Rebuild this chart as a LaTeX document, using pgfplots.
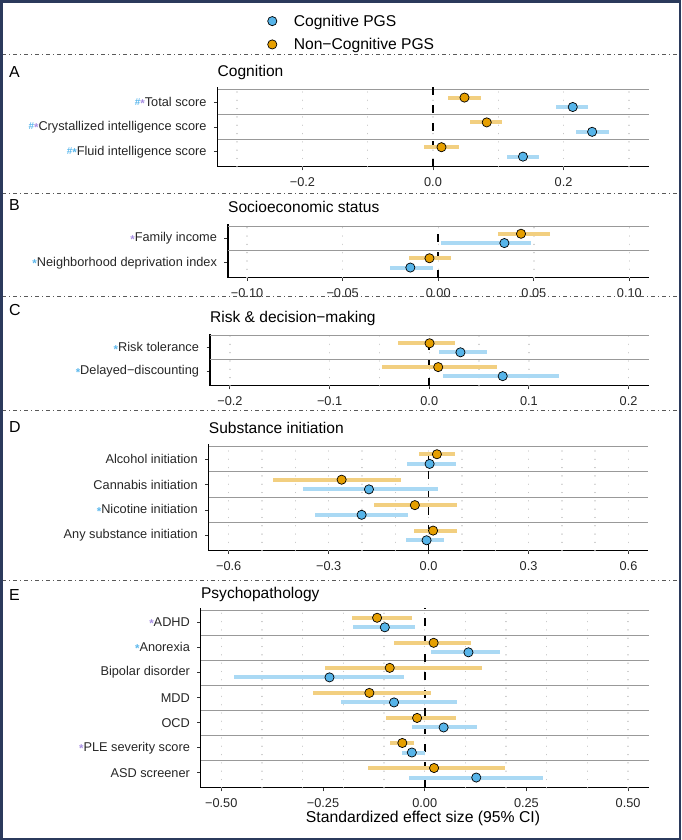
\documentclass[border=0pt]{standalone}
\usepackage{pgfplots}
\pgfplotsset{compat=1.18}
\usepackage{pgfplotstable}
\usepackage{fontspec}
\setmainfont{Liberation Sans}
\definecolor{cO}{HTML}{E69F00}
\definecolor{cB}{HTML}{56B4E9}
\definecolor{cOl}{HTML}{F2CF80}
\definecolor{cBl}{HTML}{AAD9F4}
\definecolor{sB}{HTML}{5DB8EC}
\definecolor{sP}{HTML}{A890E2}
\definecolor{frm}{HTML}{2B3A5C}
\newcommand{\hs}{\textcolor{sB}{\raisebox{0.6bp}{\fontsize{10}{10}\selectfont\bfseries\#}}}
\newcommand{\stb}{\textcolor{sB}{\raisebox{-1.4bp}{\fontsize{11.5}{10}\selectfont\bfseries*}}}
\newcommand{\stp}{\textcolor{sP}{\raisebox{-1.4bp}{\fontsize{11.5}{10}\selectfont\bfseries*}}}

\pgfplotstableread{
y x lo hi
3.19 0.0482 0.0227 0.0729
2.19 0.0823 0.056 0.106
1.19 0.013 -0.0134 0.0395
}\Aor
\pgfplotstableread{
y x lo hi
2.81 0.214 0.189 0.237
1.81 0.2437 0.219 0.2696
0.81 0.1378 0.113 0.1617
}\Abl
\pgfplotstableread{
y x lo hi
2.19 0.0433 0.0312 0.0585
1.19 -0.0046 -0.0153 0.0068
}\Bor
\pgfplotstableread{
y x lo hi
1.81 0.0346 0.0016 0.0483
0.81 -0.0146 -0.0255 -0.003
}\Bbl
\pgfplotstableread{
y x lo hi
2.19 0.0003 -0.0313 0.0257
1.19 0.009 -0.0478 0.0677
}\Cor
\pgfplotstableread{
y x lo hi
1.81 0.0313 0.0093 0.0584
0.81 0.0737 0.014 0.130
}\Cbl
\pgfplotstableread{
y x lo hi
4.19 0.025 -0.0295 0.0797
3.19 -0.261 -0.4676 -0.0816
2.19 -0.0412 -0.1647 0.085
1.19 0.0134 -0.0438 0.085
}\Dor
\pgfplotstableread{
y x lo hi
3.81 0.003 -0.0646 0.0823
2.81 -0.179 -0.378 0.029
1.81 -0.201 -0.340 -0.0607
0.81 -0.0061 -0.0685 0.046
}\Dbl
\pgfplotstableread{
y x lo hi
7.19 -0.117 -0.178 -0.0316
6.19 0.022 -0.0765 0.115
5.19 -0.086 -0.2455 0.1396
4.19 -0.136 -0.2743 0.0166
3.19 -0.0187 -0.0947 0.0775
2.19 -0.055 -0.085 -0.026
1.19 0.023 -0.1385 0.1963
}\Eor
\pgfplotstableread{
y x lo hi
6.81 -0.098 -0.175 -0.023
5.81 0.1075 0.0144 0.1856
4.81 -0.234 -0.469 -0.0497
3.81 -0.0754 -0.2048 0.0797
2.81 0.0465 -0.0316 0.1289
1.81 -0.0316 -0.055 0.0005
0.81 0.1267 -0.039 0.2896
}\Ebl

\newcommand{\ciplot}[3]{%
\addplot[only marks, mark=*, mark size=4.6bp, mark options={fill=#2, draw=black, line width=0.7bp},
  error bars/.cd, x dir=both, x explicit, error mark=none,
  error bar style={line width=4bp, color=#3}]
  table[x=x, y=y, x error minus expr={\thisrow{x}-\thisrow{lo}}, x error plus expr={\thisrow{hi}-\thisrow{x}}] {#1};}

\newcommand{\zeroline}[1]{\draw[line width=1.8bp, dash pattern=on 8bp off 10bp] (axis cs:0,0.4) -- (axis cs:0,#1);}

\pgfplotsset{
  panel/.style={
    scale only axis, clip=false,
    axis lines=left,
    axis line style={-, line width=1.1bp, black},
    x axis line style={-}, y axis line style={-},
    tick align=outside,
    major tick length=3.5bp,
    every tick/.append style={line width=0.9bp, black!80},
    tick label style={font=\fontsize{12.8}{14}\selectfont, text=black!85},
    xticklabel style={yshift=-3.5bp},
    yticklabel style={xshift=-4bp},
    ymin=0.4,
    extra x tick labels={},
    extra y tick labels={},
    extra x tick style={major tick length=0pt, grid=major,
      major grid style={line width=1.4bp, color=black!22, line cap=round, dash pattern=on 0.01bp off 8.3bp}},
    extra y tick style={major tick length=0pt, grid=major,
      major grid style={line width=0.9bp, color=black!40}},
  },
}

\begin{document}
\begin{tikzpicture}
\useasboundingbox (0,0) rectangle (682bp,-840bp);

% ---------------- Panel A
\begin{axis}[panel, at={(217.5bp,-166.8bp)}, anchor=south west, width=431bp, height=79.4bp,
  xmin=-0.33, xmax=0.33, ymax=3.6,
  xtick={-0.2,0,0.2}, xticklabels={−0.2,0.0,0.2},
  extra x ticks={-0.3,-0.2,-0.1,0,0.1,0.2,0.3},
  ytick={1,2,3},
  yticklabels={\hs\stb Fluid intelligence score, \hs\stp Crystallized intelligence score, \hs\stp Total score},
  extra y ticks={1.5,2.5,3.5},
  legend style={draw=none, fill=none, at={(axis description cs:0.1155,1.937)}, anchor=north west,
    inner sep=0pt, row sep=7.5bp, nodes={inner sep=1.5bp, font=\fontsize{15.7}{17}\selectfont}},
  legend cell align=left,
  legend image code/.code={\draw[#1, mark size=4.6bp] plot coordinates {(0bp,0bp)}; \path (-4.6bp,0bp) (19.8bp,0bp);},
]
\zeroline{3.6}
\ciplot{\Abl}{cB}{cBl}
\addlegendentry{Cognitive PGS}
\ciplot{\Aor}{cO}{cOl}
\addlegendentry{Non−Cognitive PGS}
\end{axis}

% ---------------- Panel B
\begin{axis}[panel, at={(228bp,-277.6bp)}, anchor=south west, width=420.5bp, height=53.9bp,
  xmin=-0.11, xmax=0.11, ymax=2.6,
  xtick={-0.1,-0.05,0,0.05,0.1}, xticklabels={−0.10,−0.05,0.00,0.05,0.10},
  extra x ticks={-0.1,-0.05,0,0.05,0.1},
  ytick={1,2},
  yticklabels={\stb Neighborhood deprivation index, \stp Family income},
  extra y ticks={1.5,2.5},
]
\zeroline{2.6}
\ciplot{\Bbl}{cB}{cBl}
\ciplot{\Bor}{cO}{cOl}
\end{axis}

% ---------------- Panel C
\begin{axis}[panel, at={(210bp,-385.9bp)}, anchor=south west, width=438.5bp, height=52.4bp,
  xmin=-0.22, xmax=0.22, ymax=2.6,
  xtick={-0.2,-0.1,0,0.1,0.2}, xticklabels={−0.2,−0.1,0.0,0.1,0.2},
  extra x ticks={-0.2,-0.1,-0.05,0,0.05,0.1,0.2},
  ytick={1,2},
  yticklabels={\stb Delayed−discounting, \stb Risk tolerance},
  extra y ticks={1.5,2.5},
]
\zeroline{2.6}
\ciplot{\Cbl}{cB}{cBl}
\ciplot{\Cor}{cO}{cOl}
\end{axis}

% ---------------- Panel D
\begin{axis}[panel, at={(208.7bp,-550.7bp)}, anchor=south west, width=439.8bp, height=106.9bp,
  xmin=-0.66, xmax=0.66, ymax=4.6,
  xtick={-0.6,-0.3,0,0.3,0.6}, xticklabels={−0.6,−0.3,0.0,0.3,0.6},
  extra x ticks={-0.6,-0.5,-0.4,-0.3,-0.2,-0.1,0,0.1,0.2,0.3,0.4,0.5,0.6},
  ytick={1,2,3,4},
  yticklabels={Any substance initiation, \stb Nicotine initiation, Cannabis initiation, Alcohol initiation},
  extra y ticks={1.5,2.5,3.5,4.5},
]
\zeroline{4.6}
\ciplot{\Dbl}{cB}{cBl}
\ciplot{\Dor}{cO}{cOl}
\end{axis}

% ---------------- Panel E
\begin{axis}[panel, at={(200.9bp,-787.8bp)}, anchor=south west, width=447.6bp, height=180.3bp,
  xmin=-0.55, xmax=0.55, ymax=7.6,
  xtick={-0.5,-0.25,0,0.25,0.5}, xticklabels={−0.50,−0.25,0.00,0.25,0.50},
  extra x ticks={-0.5,-0.4,-0.3,-0.2,-0.1,0,0.1,0.2,0.3,0.4,0.5},
  ytick={1,2,3,4,5,6,7},
  yticklabels={ASD screener, \stp PLE severity score, OCD, MDD, Bipolar disorder, \stb Anorexia, \stp ADHD},
  extra y ticks={1.5,2.5,3.5,4.5,5.5,6.5,7.5},
]
\zeroline{7.6}
\ciplot{\Ebl}{cB}{cBl}
\ciplot{\Eor}{cO}{cOl}
\end{axis}

% titles
\begin{scope}[every node/.style={inner sep=0pt, anchor=base west, font=\fontsize{15.6}{17}\selectfont}]
\node at (217.5bp,-76.6bp) {Cognition};
\node at (228bp,-212.6bp) {Socioeconomic status};
\node at (210bp,-322.6bp) {Risk \& decision−making};
\node at (208.7bp,-433.9bp) {Substance initiation};
\node at (200.9bp,-598.6bp) {Psychopathology};
\end{scope}
\begin{scope}[every node/.style={inner sep=0pt, anchor=base west, font=\fontsize{16}{17}\selectfont}]
\node at (9bp,-77.4bp) {A};
\node at (9bp,-210.7bp) {B};
\node at (9bp,-315.7bp) {C};
\node at (9bp,-432.4bp) {D};
\node at (9bp,-600.7bp) {E};
\end{scope}
\node[inner sep=0pt, anchor=base, font=\fontsize{15.8}{17}\selectfont] at (423bp,-822.9bp) {Standardized effect size (95\% CI)};

% separators
\begin{scope}[line width=0.9bp, color=black!65, dash pattern=on 4bp off 3bp on 1bp off 3bp]
\foreach \yy in {54.3,193.3,296.7,410,580} {\draw (2bp,-\yy bp) -- (680bp,-\yy bp);}
\end{scope}
\draw[frm, line width=2bp] (1.5bp,-1.5bp) rectangle (680bp,-838.5bp);
\end{tikzpicture}
\end{document}
